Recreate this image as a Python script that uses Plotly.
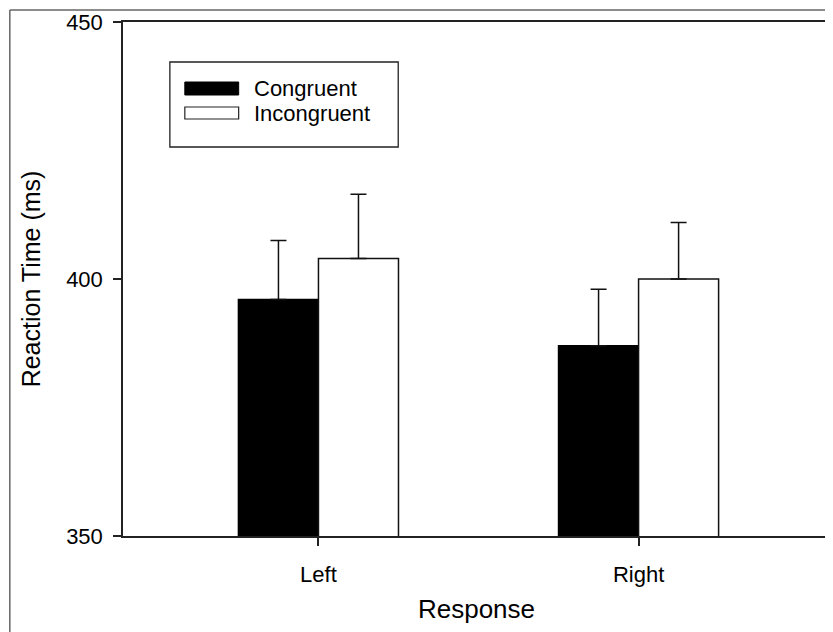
import plotly.graph_objects as go

categories = ["Left", "Right"]
congruent = [396, 387]
congruent_err = [11.5, 11]
incongruent = [404, 400]
incongruent_err = [12.5, 11]
series_names = ["Congruent", "Incongruent"]
y_ticks = [350, 400, 450]

FONT = "Liberation Sans, Arial, sans-serif"
OFF = 8  # page body margin
W, H = 825, 624
L, R, T, B = 115, 1, 14, 96
PW, PH = W - L - R, H - T - B
PL, PB = L + OFF, T + OFF + PH  # page coords of plot left / bottom


def px(x):
    return (x - PL) / PW


def py(y):
    return (PB - y) / PH


fig = go.Figure()
fig.add_trace(go.Bar(
    x=categories, y=congruent, name=series_names[0],
    marker=dict(color="black", line=dict(color="black", width=1.5)),
    error_y=dict(type="data", array=congruent_err, arrayminus=[0, 0], symmetric=False,
                 color="#111", thickness=1.5, width=8),
    showlegend=False,
))
fig.add_trace(go.Bar(
    x=categories, y=incongruent, name=series_names[1],
    marker=dict(color="white", line=dict(color="#111", width=1.5)),
    error_y=dict(type="data", array=incongruent_err, arrayminus=[0, 0], symmetric=False,
                 color="#111", thickness=1.5, width=8),
    showlegend=False,
))

shapes = [
    # outer frame
    dict(type="line", xref="paper", yref="paper", x0=px(9.5), x1=px(833), y0=py(10), y1=py(10),
         line=dict(color="#666", width=1.5), layer="above"),
    dict(type="line", xref="paper", yref="paper", x0=px(9.5), x1=px(9.5), y0=py(700), y1=py(10),
         line=dict(color="#666", width=1.5), layer="above"),
    # legend box
    dict(type="rect", xref="paper", yref="paper", x0=px(170), x1=px(399), y0=py(147), y1=py(62),
         line=dict(color="#222", width=1.3), fillcolor="white"),
    dict(type="rect", xref="paper", yref="paper", x0=px(185), x1=px(239), y0=py(95), y1=py(82),
         line=dict(color="black", width=1), fillcolor="black"),
    dict(type="rect", xref="paper", yref="paper", x0=px(185), x1=px(239), y0=py(119), y1=py(107),
         line=dict(color="#222", width=1.2), fillcolor="white"),
]
annotations = [
    dict(xref="paper", yref="paper", x=px(252), y=py(88), text=series_names[0], showarrow=False,
         xanchor="left", yanchor="middle", font=dict(family=FONT, size=22, color="black")),
    dict(xref="paper", yref="paper", x=px(252), y=py(113), text=series_names[1], showarrow=False,
         xanchor="left", yanchor="middle", font=dict(family=FONT, size=22, color="black")),
]

fig.update_layout(
    width=W, height=H,
    margin=dict(l=L, r=R, t=T, b=B, pad=0),
    paper_bgcolor="white", plot_bgcolor="white",
    barmode="group", bargap=0.5, bargroupgap=0,
    font=dict(family=FONT, size=22, color="black"),
    shapes=shapes, annotations=annotations,
    showlegend=False,
    xaxis=dict(
        type="category", range=[-0.6106, 1.598],
        showline=True, linecolor="#222", linewidth=1.5, mirror=True,
        ticks="outside", ticklen=8, tickwidth=1.5, tickcolor="#222",
        ticklabelstandoff=10,
        showgrid=False, zeroline=False,
        tickfont=dict(family=FONT, size=22),
        title=dict(text="Response", font=dict(family=FONT, size=26), standoff=14),
    ),
    yaxis=dict(
        range=[350, 450], tickvals=y_ticks,
        showline=True, linecolor="#222", linewidth=1.5, mirror=True,
        ticks="outside", ticklen=8, tickwidth=1.5, tickcolor="#222",
        ticklabelstandoff=6,
        showgrid=False, zeroline=False,
        tickfont=dict(family=FONT, size=22),
        title=dict(text="Reaction Time (ms)", font=dict(family=FONT, size=25), standoff=18),
    ),
)

fig.write_html("out.html")
